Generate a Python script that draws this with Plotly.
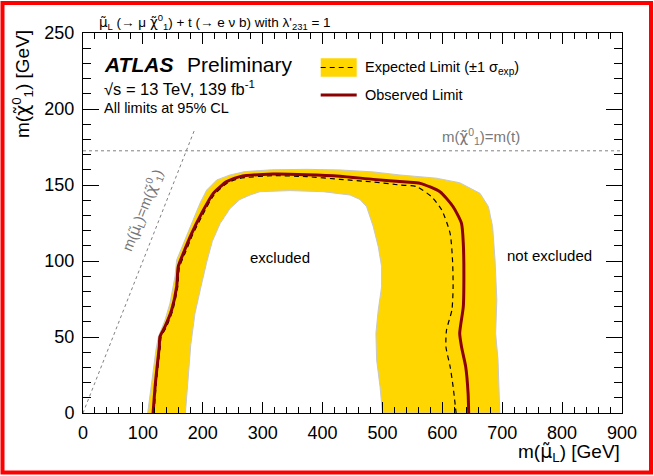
import plotly.graph_objects as go

# ---------------- data (GeV) ----------------
band_outer_x = [108, 113, 118, 122, 126, 137, 145.2, 153.6, 156.4, 167.5, 176, 184.1, 195.3, 206.5, 223.2, 245.4,
                270, 315, 373, 429, 485, 529, 590, 629, 663, 677, 684, 688, 691, 689, 693, 696]
band_outer_y = [0, 15, 30, 42, 50.2, 61.2, 72.2, 89.7, 100.7, 111.6, 120, 127, 138, 146.7, 153.3, 156.6,
                158.8, 160, 160.3, 159.9, 158.6, 156.6, 154.5, 151.5, 144.5, 135.7, 122.6, 100.7, 74.3, 52.4, 34.9, 0]
band_inner_x = [500, 496, 490.3, 489.1, 493, 498.6, 498.6, 493, 484.7, 473.6, 462.4, 446, 401, 346, 295.5, 279, 262,
                245.4, 228.7, 216, 207, 197, 187, 180, 175.5, 171]
band_inner_y = [0, 17.3, 34.9, 52.4, 67.8, 83.1, 96.3, 109.4, 122.6, 135.7, 140.5, 143.4, 145.6, 146.3, 145.6, 143.4,
                140.5, 134.5, 124.5, 113, 100, 83.1, 65.6, 45, 24, 0]

obs_x = [117, 121, 125, 127.4, 128.5, 136.9, 148, 156.4, 159.1, 167.5, 181.5, 198.2, 217.5, 239.9, 262, 317.7,
         373.5, 429, 484.6, 540, 563, 596, 618, 632, 635, 636, 635, 629, 632, 639, 643, 644]
obs_y = [0, 20, 35, 43.6, 50.2, 56.8, 67.8, 83.1, 96.3, 105, 118.2, 131.4, 144.5, 152.2, 155.5, 157.2,
         156.8, 155.8, 153.7, 152, 151.1, 145.6, 135.7, 124.8, 111.6, 89.7, 69.9, 52.4, 43.6, 30.5, 13, 0]

exp_x = [118.5, 122.5, 126.5, 129, 130.5, 138.5, 149.5, 158, 161, 169.5, 183, 199.5, 218.5, 240.5, 262, 317.7,
         373.5, 429, 484.6, 529, 557, 582, 599, 613, 617, 618, 616, 607, 606, 613, 618, 623]
exp_y = [0, 20, 35, 43.6, 50.2, 56, 67, 82.5, 96, 104.2, 117.2, 130.2, 143.4, 151.2, 154.4, 156.1,
         155.5, 153.7, 152, 150, 148.9, 142.3, 133.6, 118.2, 100.7, 83.1, 67.8, 54.6, 43.6, 30.5, 17.3, 0]

top_mass = 172.5
diag_end = 187
x_range = [0, 900]
y_range = [0, 250]

# ---------------- geometry helpers (pixels -> paper) ----------------
W, H = 654, 476
ML, MR, MT, MB = 83, 32, 33, 63
PW, PH = W - ML - MR, H - MT - MB


def px(xp):
    return (xp - ML) / PW


def py(yp):
    return (H - MB - yp) / PH


FONT = "Liberation Sans, Arial, Helvetica, sans-serif"
YELLOW = "#FFD600"
DARKRED = "#8B0000"
GREY = "#808080"


def tl(ch):
    # greek letter with tilde, rendered in a font with good combining-mark support
    return '<span style="font-family:DejaVu Sans">' + ch + '\u0303</span>'


MU = tl("μ")
CHI = tl("χ")

fig = go.Figure()

# yellow band: outer contour then inner contour back
fig.add_trace(go.Scatter(
    x=band_outer_x + band_inner_x, y=band_outer_y + band_inner_y,
    fill="toself", fillcolor=YELLOW, mode="lines",
    line=dict(color="#c8c8c8", width=1), hoverinfo="skip", showlegend=False))

# expected
fig.add_trace(go.Scatter(x=exp_x, y=exp_y, mode="lines",
                         line=dict(color="black", width=1.2, dash="5px,4px", shape="spline", smoothing=0.6),
                         showlegend=False))
# observed
fig.add_trace(go.Scatter(x=obs_x, y=obs_y, mode="lines",
                         line=dict(color=DARKRED, width=3, shape="spline", smoothing=0.6), showlegend=False))

# kinematic lines
fig.add_trace(go.Scatter(x=[0, diag_end], y=[0, diag_end], mode="lines",
                         line=dict(color=GREY, width=1, dash="3px,3px"), showlegend=False))
fig.add_trace(go.Scatter(x=x_range, y=[top_mass, top_mass], mode="lines",
                         line=dict(color=GREY, width=1, dash="3px,3px"), showlegend=False))

# dummy trace for mirrored axes
fig.add_trace(go.Scatter(x=[None], y=[None], xaxis="x2", yaxis="y2", showlegend=False))

axis_common = dict(showgrid=False, zeroline=False, showline=True, linecolor="black", linewidth=1,
                   ticks="inside", tickcolor="black", tickwidth=1)

fig.update_layout(
    width=W, height=H, autosize=False,
    margin=dict(l=ML, r=MR, t=MT, b=MB, pad=0),
    paper_bgcolor="white", plot_bgcolor="white",
    font=dict(family=FONT, color="black"),
    xaxis=dict(range=x_range, dtick=100, ticklen=11,
               minor=dict(dtick=20, ticklen=6, ticks="inside", tickcolor="black"),
               tickfont=dict(size=18), ticklabelstandoff=3, **axis_common),
    yaxis=dict(range=y_range, dtick=50, ticklen=16,
               minor=dict(dtick=10, ticklen=8, ticks="inside", tickcolor="black"),
               tickfont=dict(size=18), ticklabelstandoff=4, **axis_common),
    xaxis2=dict(range=x_range, dtick=100, ticklen=11, overlaying="x", side="top", anchor="y",
                minor=dict(dtick=20, ticklen=6, ticks="inside", tickcolor="black"),
                showticklabels=False, **axis_common),
    yaxis2=dict(range=y_range, dtick=50, ticklen=16, overlaying="y", side="right", anchor="x",
                minor=dict(dtick=10, ticklen=8, ticks="inside", tickcolor="black"),
                showticklabels=False, **axis_common),
)

ann = []


def text(x, y, s, size, color="black", xa="left", ya="middle", angle=0, ref="paper"):
    ann.append(dict(x=x, y=y, xref=ref, yref=ref, text=s, showarrow=False, xanchor=xa, yanchor=ya,
                    textangle=angle, font=dict(size=size, color=color, family=FONT)))


# title
text(px(97), py(22), MU + "<sub>L</sub> (→ μ " + CHI + "<sup>0</sup><sub>1</sub>) + t (→ e ν b) with λ'<sub>231</sub> = 1",
     13.5)
# ATLAS label
text(px(102), py(64), "<b><i>ATLAS</i></b>", 21)
text(px(185), py(64), "Preliminary", 21)
text(px(102), py(88), "√s = 13 TeV, 139 fb<sup>-1</sup>", 16.5)
text(px(102), py(108), "All limits at 95% CL", 14.5)
# legend text
text(px(363), py(68), "Expected Limit (±1 σ<sub>exp</sub>)", 14.5)
text(px(363), py(95), "Observed Limit", 14.5)
# line labels
text(px(440), py(136), "m(" + CHI + "<sup>0</sup><sub>1</sub>)=m(t)", 15, color="#777777")
text(px(142.5), py(210), "m(" + MU + "<sub>L</sub>)=m(" + CHI + "<sup>0</sup><sub>1</sub>)", 14.5, color="#777777",
     xa="center", angle=-68.5)
# region labels
text(px(280), py(257), "excluded", 15, xa="center")
text(px(549), py(256), "not excluded", 15, xa="center")
# axis titles
text(px(622), py(452), "m(" + MU + "<sub>L</sub>) [GeV]", 19, xa="right")
text(px(22), py(28), "m(" + CHI + "<sup>0</sup><sub>1</sub>) [GeV]", 19, xa="center", ya="top", angle=-90)

fig.update_layout(annotations=ann)

# legend symbols and outer red frame
shapes = [
    dict(type="rect", xref="paper", yref="paper", x0=px(320.7), x1=px(356.7), y0=py(76.7), y1=py(58.3),
         fillcolor=YELLOW, line=dict(width=0)),
    dict(type="line", xref="paper", yref="paper", x0=px(320.7), x1=px(356.7), y0=py(67.5), y1=py(67.5),
         line=dict(color="black", width=1.2, dash="5px,4px")),
    dict(type="line", xref="paper", yref="paper", x0=px(320.7), x1=px(356.7), y0=py(95), y1=py(95),
         line=dict(color=DARKRED, width=3)),
    dict(type="rect", xref="paper", yref="paper", x0=px(2.5), x1=px(651), y0=py(472.5), y1=py(3),
         line=dict(color="#ff0000", width=4), fillcolor="rgba(0,0,0,0)", layer="above"),
]
fig.update_layout(shapes=shapes)

fig.write_html("out.html")
